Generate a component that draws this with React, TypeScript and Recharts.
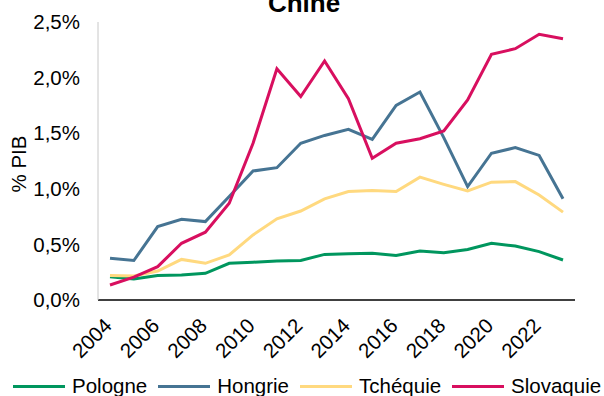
import { LineChart, Line, XAxis, YAxis, Legend } from 'recharts';

const years = [
  2004, 2005, 2006, 2007, 2008, 2009, 2010, 2011, 2012, 2013,
  2014, 2015, 2016, 2017, 2018, 2019, 2020, 2021, 2022, 2023,
];

// % du PIB
const pologne = [
  0.21, 0.19, 0.22, 0.225, 0.24, 0.33, 0.34, 0.35, 0.355, 0.41,
  0.415, 0.42, 0.4, 0.44, 0.425, 0.455, 0.51, 0.485, 0.435, 0.36,
];
const hongrie = [
  0.375, 0.355, 0.66, 0.725, 0.705, 0.93, 1.16, 1.19, 1.41, 1.48,
  1.535, 1.445, 1.75, 1.87, 1.46, 1.02, 1.32, 1.37, 1.3, 0.91,
];
const tchequie = [
  0.22, 0.215, 0.26, 0.365, 0.33, 0.405, 0.585, 0.73, 0.8, 0.91,
  0.975, 0.985, 0.975, 1.105, 1.04, 0.98, 1.06, 1.065, 0.945, 0.79,
];
const slovaquie = [
  0.135, 0.205, 0.3, 0.51, 0.61, 0.87, 1.41, 2.08, 1.83, 2.15,
  1.81, 1.275, 1.41, 1.45, 1.52, 1.8, 2.21, 2.26, 2.39, 2.35,
];

const yTicks = [0, 0.5, 1, 1.5, 2, 2.5];

const series = [
  { key: 'pologne', name: 'Pologne', color: '#00965e' },
  { key: 'hongrie', name: 'Hongrie', color: '#467493' },
  { key: 'tchequie', name: 'Tchéquie', color: '#ffd97f' },
  { key: 'slovaquie', name: 'Slovaquie', color: '#d80f5f' },
];

const data = years.map((year, i) => ({
  year,
  pologne: pologne[i],
  hongrie: hongrie[i],
  tchequie: tchequie[i],
  slovaquie: slovaquie[i],
}));

const font = '"Liberation Sans", Arial, sans-serif';
const fs = 20.5;

const formatPct = (v: number) => v.toFixed(1).replace('.', ',') + '%';

const YearTick = ({ x, y, payload }: any) => {
  const tx = x + 3;
  const ty = y + 27;
  return (
    <text
      x={tx}
      y={ty}
      transform={`rotate(-45 ${tx} ${ty})`}
      textAnchor="end"
      fontSize={fs}
      fontFamily={font}
      fill="#000"
    >
      {payload.value}
    </text>
  );
};

const renderLegend = () => (
  <div
    style={{
      display: 'flex',
      alignItems: 'center',
      height: 24,
      paddingLeft: 13,
      whiteSpace: 'nowrap',
      fontFamily: font,
      fontSize: fs,
      color: '#000',
    }}
  >
    {series.map((s) => (
      <span key={s.key} style={{ display: 'inline-flex', alignItems: 'center', marginRight: 11 }}>
        <span style={{ display: 'inline-block', width: 52, height: 3, background: s.color, marginRight: 7 }} />
        {s.name}
      </span>
    ))}
  </div>
);

export default function App() {
  return (
    <div style={{ position: 'absolute', left: 0, top: 0, width: 604, height: 396, overflow: 'hidden', background: '#fff' }}>
      <LineChart width={604} height={396} data={data} margin={{ top: 22, right: 29, left: 0, bottom: 12 }}>
        <XAxis
          dataKey="year"
          height={60}
          interval={1}
          padding={{ left: 12, right: 12 }}
          tickLine={false}
          tickSize={0}
          tickMargin={0}
          tick={<YearTick />}
          axisLine={{ stroke: '#404040', strokeWidth: 2 }}
        />
        <XAxis xAxisId="top" orientation="top" dataKey="year" height={0} tick={false} tickLine={false} axisLine={{ stroke: '#c8c8c8' }} />
        <YAxis
          domain={[0, 2.5]}
          ticks={yTicks}
          width={98}
          tickLine={false}
          tickSize={0}
          tickMargin={18}
          tickFormatter={formatPct}
          tick={{ fill: '#000', fontSize: fs, fontFamily: font }}
          axisLine={{ stroke: '#c8c8c8' }}
          label={() => (
            <text
              x={18}
              y={164}
              transform="rotate(-90 18 164)"
              textAnchor="middle"
              dominantBaseline="central"
              fontSize={fs}
              fontFamily={font}
              fill="#000"
            >
              % PIB
            </text>
          )}
        />
        <YAxis yAxisId="right" orientation="right" domain={[0, 2.5]} width={0} tick={false} tickLine={false} axisLine={{ stroke: '#c8c8c8' }} />
        <Legend
          content={renderLegend}
          wrapperStyle={{ left: 0, top: 374, bottom: 'auto', width: 604, height: 24 }}
        />
        {series.map((s) => (
          <Line
            key={s.key}
            type="linear"
            dataKey={s.key}
            name={s.name}
            stroke={s.color}
            strokeWidth={3}
            dot={false}
            activeDot={false}
            isAnimationActive={false}
          />
        ))}
      </LineChart>
      <svg width={604} height={30} style={{ position: 'absolute', left: 0, top: 0, pointerEvents: 'none' }}>
        <text x={304} y={12} textAnchor="middle" fontSize={26} fontWeight="bold" fontFamily={font} fill="#000">
          Chine
        </text>
      </svg>
    </div>
  );
}
